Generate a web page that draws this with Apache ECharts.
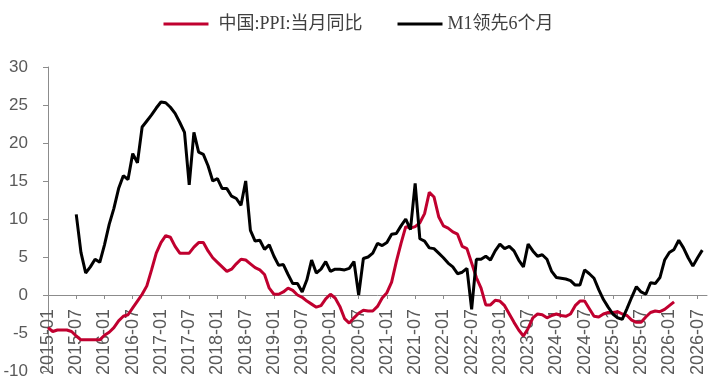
<!DOCTYPE html>
<html>
<head>
<meta charset="utf-8">
<script src="https://cdn.jsdelivr.net/npm/echarts@6/dist/echarts.min.js"></script>
<style>html,body{margin:0;padding:0;background:#fff;}#c{width:717px;height:387px;}</style>
</head>
<body>
<div id="c"></div>
<script>
// Monthly categories 2015-01 .. 2026-09
const categories = [
 '2015-01','2015-02','2015-03','2015-04','2015-05','2015-06','2015-07','2015-08','2015-09','2015-10','2015-11','2015-12',
 '2016-01','2016-02','2016-03','2016-04','2016-05','2016-06','2016-07','2016-08','2016-09','2016-10','2016-11','2016-12',
 '2017-01','2017-02','2017-03','2017-04','2017-05','2017-06','2017-07','2017-08','2017-09','2017-10','2017-11','2017-12',
 '2018-01','2018-02','2018-03','2018-04','2018-05','2018-06','2018-07','2018-08','2018-09','2018-10','2018-11','2018-12',
 '2019-01','2019-02','2019-03','2019-04','2019-05','2019-06','2019-07','2019-08','2019-09','2019-10','2019-11','2019-12',
 '2020-01','2020-02','2020-03','2020-04','2020-05','2020-06','2020-07','2020-08','2020-09','2020-10','2020-11','2020-12',
 '2021-01','2021-02','2021-03','2021-04','2021-05','2021-06','2021-07','2021-08','2021-09','2021-10','2021-11','2021-12',
 '2022-01','2022-02','2022-03','2022-04','2022-05','2022-06','2022-07','2022-08','2022-09','2022-10','2022-11','2022-12',
 '2023-01','2023-02','2023-03','2023-04','2023-05','2023-06','2023-07','2023-08','2023-09','2023-10','2023-11','2023-12',
 '2024-01','2024-02','2024-03','2024-04','2024-05','2024-06','2024-07','2024-08','2024-09','2024-10','2024-11','2024-12',
 '2025-01','2025-02','2025-03','2025-04','2025-05','2025-06','2025-07','2025-08','2025-09','2025-10','2025-11','2025-12',
 '2026-01','2026-02','2026-03','2026-04','2026-05','2026-06','2026-07','2026-08','2026-09'
];

const seriesNames = ['中国:PPI:当月同比', 'M1领先6个月'];

const ppi = [
 -4.3,-4.8,-4.6,-4.6,-4.6,-4.8,-5.4,-5.9,-5.9,-5.9,-5.9,-5.9,
 -5.3,-4.9,-4.3,-3.4,-2.8,-2.6,-1.7,-0.8,0.1,1.2,3.3,5.5,
 6.9,7.8,7.6,6.4,5.5,5.5,5.5,6.3,6.9,6.9,5.8,4.9,
 4.3,3.7,3.1,3.4,4.1,4.7,4.6,4.1,3.6,3.3,2.7,0.9,
 0.1,0.1,0.4,0.9,0.6,0.0,-0.3,-0.8,-1.2,-1.6,-1.4,-0.5,
 0.1,-0.4,-1.5,-3.1,-3.7,-3.0,-2.4,-2.0,-2.1,-2.1,-1.5,-0.4,
 0.3,1.7,4.4,6.8,9.0,8.8,9.0,9.5,10.7,13.5,12.9,10.3,
 9.1,8.8,8.3,8.0,6.4,6.1,4.2,2.3,0.9,-1.3,-1.3,-0.7,
 -0.8,-1.4,-2.5,-3.6,-4.6,-5.4,-4.4,-3.0,-2.5,-2.6,-3.0,-2.7,
 -2.5,-2.7,-2.8,-2.5,-1.4,-0.8,-0.8,-1.8,-2.8,-2.9,-2.5,-2.3,
 -2.3,-2.2,-2.5,-2.7,-3.3,-3.6,-3.6,-2.9,-2.3,-2.1,-2.2,-1.9,
 -1.4,-0.9,null,null,null,null,null,null,null
];

const m1Lead6 = [
 null,null,null,null,null,null,10.6,5.6,2.9,3.7,4.7,4.3,
 6.6,9.3,11.4,14.0,15.7,15.2,18.6,17.4,22.1,22.9,23.7,24.6,
 25.4,25.3,24.7,23.9,22.7,21.4,14.5,21.4,18.8,18.5,17.0,15.0,
 15.3,14.0,14.0,13.0,12.7,11.8,15.0,8.5,7.1,7.2,6.0,6.6,
 5.1,3.9,4.0,2.7,1.5,1.5,0.4,2.0,4.6,2.9,3.4,4.4,
 3.1,3.4,3.4,3.3,3.5,4.4,0.0,4.8,5.0,5.5,6.8,6.5,
 6.9,8.0,8.1,9.1,10.0,8.6,14.7,7.4,7.1,6.2,6.1,5.5,
 4.9,4.2,3.7,2.8,3.0,3.5,-1.9,4.7,4.7,5.1,4.6,5.8,
 6.7,6.1,6.4,5.8,4.6,3.7,6.7,5.8,5.1,5.3,4.7,3.1,
 2.3,2.2,2.1,1.9,1.3,1.3,3.3,2.8,2.2,0.7,-0.6,-1.6,
 -2.5,-3.0,-3.2,-1.8,-0.3,1.1,0.4,0.1,1.6,1.5,2.3,4.6,
 5.6,6.0,7.2,6.2,4.9,3.8,4.9,5.9,null
];

const yTicks = { min: -10, max: 30, interval: 5 };

const W = 717, H = 387;
const gridBox = { left: 48, right: 10, top: 67, bottom: 16 };
const plotH = H - gridBox.top - gridBox.bottom;
// shift the category axis (line, ticks and labels) up to the y = 0 level
const zeroOffset = -plotH * (0 - yTicks.min) / (yTicks.max - yTicks.min);

const chart = echarts.init(document.getElementById('c'), null, { renderer: 'canvas' });
const axisColor = '#8c8c8c';
const labelColor = '#595959';
const redColor = '#c0002f';
chart.setOption({
  animation: false,
  backgroundColor: '#ffffff',
  legend: {
    top: 10,
    left: 'center',
    itemWidth: 45,
    itemHeight: 3,
    itemGap: 35,
    icon: 'rect',
    textStyle: { fontFamily: '"Liberation Serif", "Noto Sans CJK SC", serif', fontSize: 18, color: '#404040' },
    data: [
      { name: seriesNames[0], itemStyle: { color: redColor }, textStyle: { padding: [0, 0, 0, 5] } },
      { name: seriesNames[1], itemStyle: { color: '#000000' }, textStyle: { padding: [0, 0, 0, 0] } }
    ]
  },
  grid: Object.assign({ containLabel: false, outerBoundsMode: 'none' }, gridBox),
  xAxis: {
    type: 'category',
    data: categories,
    boundaryGap: false,
    offset: zeroOffset,
    axisLine: { onZero: false, lineStyle: { color: axisColor, width: 1 } },
    axisTick: { show: true, interval: 5, length: 4, lineStyle: { color: axisColor } },
    axisLabel: {
      interval: 5,
      rotate: 90,
      margin: 14,
      color: labelColor,
      fontSize: 18,
      fontFamily: '"Liberation Sans", Arial, sans-serif'
    },
    splitLine: { show: false }
  },
  yAxis: {
    type: 'value',
    min: yTicks.min,
    max: yTicks.max,
    interval: yTicks.interval,
    axisLine: { show: true, lineStyle: { color: axisColor, width: 1 } },
    axisTick: { show: true, length: 5, lineStyle: { color: axisColor } },
    axisLabel: { margin: 20, color: labelColor, fontSize: 17, fontFamily: '"Liberation Sans", Arial, sans-serif' },
    splitLine: { show: false }
  },
  series: [
    {
      name: seriesNames[0], type: 'line', data: ppi, symbol: 'none', connectNulls: false,
      lineStyle: { color: redColor, width: 3 }, itemStyle: { color: redColor }, z: 2
    },
    {
      name: seriesNames[1], type: 'line', data: m1Lead6, symbol: 'none', connectNulls: false,
      lineStyle: { color: '#000000', width: 3 }, itemStyle: { color: '#000000' }, z: 3
    }
  ]
});
</script>
</body>
</html>
